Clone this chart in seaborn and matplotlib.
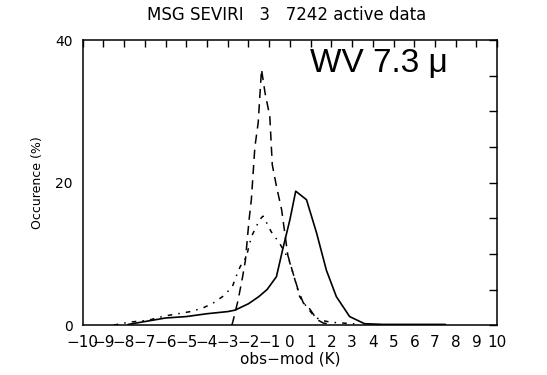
import numpy as np
import pandas as pd
import seaborn as sns
import matplotlib.pyplot as plt
from matplotlib.ticker import MultipleLocator

# Histogramas obs-mod (leitura aproximada da figura)
x_solid = [-7.8, -7.0, -6.0, -5.0, -4.0, -3.0, -2.65, -2.0, -1.5, -1.1, -0.65, -0.35, 0.0,
           0.28, 0.8, 1.28, 1.76, 2.24, 2.88, 3.6, 4.5, 5.5, 6.5, 7.5]
y_solid = [0.1, 0.5, 1.0, 1.2, 1.6, 1.9, 2.1, 3.0, 4.0, 5.0, 6.8, 10.6, 14.8,
           18.8, 17.6, 13.0, 7.7, 4.0, 1.2, 0.2, 0.1, 0.1, 0.1, 0.1]

x_dash = [-2.8, -2.75, -2.5, -2.3, -2.15, -1.97, -1.86, -1.69, -1.53, -1.37, -1.2, -0.97,
          -0.85, -0.65, -0.4, -0.1, 0.15, 0.4, 0.65, 0.95, 1.3, 1.6, 2.0]
y_dash = [0.0, 0.5, 3.5, 6.5, 9.0, 14.8, 17.6, 25.0, 28.4, 35.9, 32.6, 29.3,
          22.5, 19.5, 16.2, 9.8, 7.3, 4.9, 3.1, 2.3, 0.8, 0.3, 0.1]

x_dd = [-8.5, -7.8, -6.8, -6.3, -5.8, -5.2, -4.8, -4.2, -3.7, -3.25, -3.0, -2.75, -2.6,
        -2.4, -2.1, -1.86, -1.46, -1.3, -1.2, -0.9, -0.5, -0.05, 0.2, 0.47, 0.8, 1.1,
        1.45, 2.0, 2.5, 3.0, 3.4]
y_dd = [0.0, 0.4, 0.7, 1.1, 1.4, 1.7, 1.9, 2.4, 3.1, 4.0, 4.7, 5.6, 6.8,
        8.2, 9.6, 12.4, 14.8, 15.3, 14.8, 13.1, 11.5, 9.2, 6.8, 4.0, 2.6, 1.5,
        0.7, 0.4, 0.3, 0.2, 0.1]

xticks = list(range(-10, 11))
yticks = [0, 20, 40]

sns.set_style("white")
plt.rcParams.update({"text.color": "black", "axes.labelcolor": "black",
                     "xtick.color": "black", "ytick.color": "black"})

fig = plt.figure(figsize=(5.47, 3.75), dpi=100)
ax = fig.add_axes([0.151, 0.133, 0.758, 0.760])

sns.lineplot(x=x_solid, y=y_solid, ax=ax, color="black", linewidth=1.2, sort=False)
sns.lineplot(x=x_dash, y=y_dash, ax=ax, color="black", linewidth=1.1, sort=False,
             linestyle=(0, (6, 4)))
sns.lineplot(x=x_dd, y=y_dd, ax=ax, color="black", linewidth=1.1, sort=False,
             linestyle=(0, (3, 4, 1, 4)))

ax.set_xlim(-10, 10)
ax.set_ylim(0, 40)
ax.set_xticks(xticks)
ax.set_yticks(yticks)
ax.yaxis.set_minor_locator(MultipleLocator(5))
ax.tick_params(axis="both", which="both", direction="in", top=True, right=True,
               color="black", width=1)
ax.tick_params(axis="x", which="major", length=5, labelsize=11, pad=7)
ax.tick_params(axis="y", which="major", length=6, labelsize=10, pad=7)
ax.tick_params(axis="y", which="minor", length=6)
for s in ax.spines.values():
    s.set_color("black")
    s.set_linewidth(1.1)

ax.set_xlabel("obs\u2212mod (K)", fontsize=11, labelpad=1)
ax.set_ylabel("Occurence (%)", fontsize=9, labelpad=8)

fig.text(287 / 547, 1 - 15 / 375, "MSG SEVIRI   3   7242 active data",
         ha="center", va="center", fontsize=12)
ax.text(0.549, 0.888, "WV 7.3 \u03bc", transform=ax.transAxes, fontsize=24,
        family="Liberation Sans", ha="left", va="baseline", color="black")

plt.savefig("out.png", dpi=100)
